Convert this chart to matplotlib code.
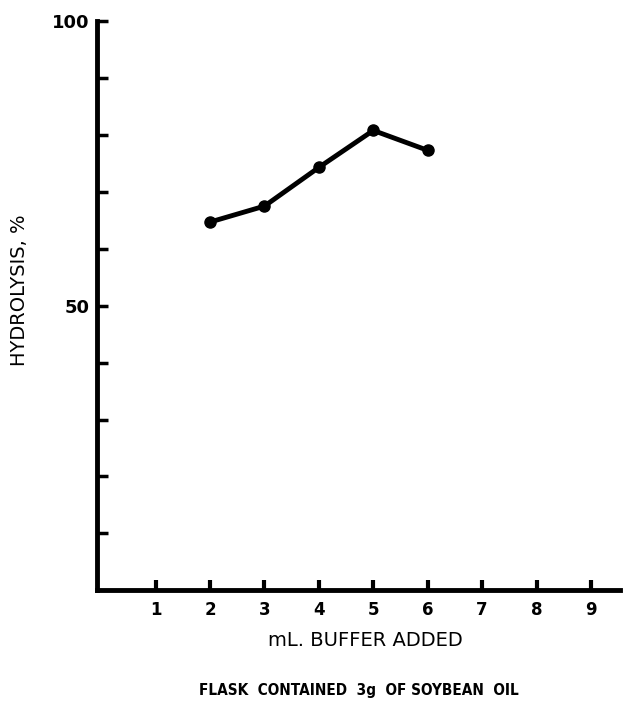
import matplotlib.pyplot as plt

buffer_ml = [2, 3, 4, 5, 6]
hydrolysis = [64.7, 67.5, 74.3, 80.8, 77.3]

x_ticks = [1, 2, 3, 4, 5, 6, 7, 8, 9]
y_ticks = [10, 20, 30, 40, 50, 60, 70, 80, 90, 100]
y_labels = ["", "", "", "", "50", "", "", "", "", "100"]

fig = plt.figure(figsize=(6.37, 7.06), dpi=100)
ax = fig.add_axes([0.152, 0.164, 0.821, 0.806])

ax.plot(buffer_ml, hydrolysis, color="black", lw=3.5, marker="o", ms=8,
        solid_capstyle="round")

ax.set_xlim(-0.08, 9.53)
ax.set_ylim(0, 100)
for s in ["top", "right"]:
    ax.spines[s].set_visible(False)
for s in ["left", "bottom"]:
    ax.spines[s].set_linewidth(3.5)

ax.set_xticks(x_ticks)
ax.set_xticklabels([str(t) for t in x_ticks], fontsize=12, fontweight="bold")
ax.set_yticks(y_ticks)
ax.set_yticklabels(y_labels, fontsize=13, fontweight="bold")
ax.tick_params(axis="x", direction="in", length=7, width=3, pad=8)
ax.tick_params(axis="y", direction="in", length=8, width=2.5, pad=5)

fig.text(0.031, 0.589, "HYDROLYSIS, %", rotation=90, ha="center", va="center",
         fontsize=14)
fig.text(0.574, 0.093, "mL. BUFFER ADDED", ha="center", va="center",
         fontsize=14)
fig.text(0.563, 0.022, "FLASK  CONTAINED  3g  OF SOYBEAN  OIL", ha="center",
         va="center", fontsize=11, fontweight="bold", fontstretch="condensed")

fig.savefig("out.png", dpi=100)
